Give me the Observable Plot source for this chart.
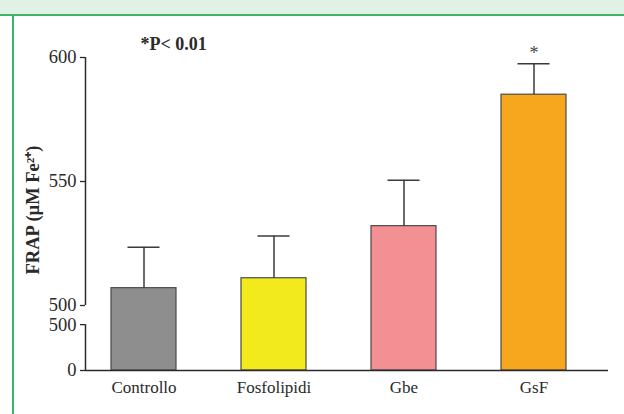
<!DOCTYPE html>
<html><head><meta charset="utf-8">
<script src="https://cdn.jsdelivr.net/npm/d3@7"></script>
<script src="https://cdn.jsdelivr.net/npm/@observablehq/plot@0.6"></script>
<style>
body{margin:0;background:#fff;}
#wrap{position:relative;width:624px;height:414px;overflow:hidden;background:#fff;}
#band{position:absolute;left:0;top:0;width:624px;height:14px;background:#e1f1e5;border-bottom:2px solid #3fb56c;}
#vline{position:absolute;left:12px;top:14px;width:2px;height:400px;background:#3fb56c;}
#chart{position:absolute;left:0;top:0;}
</style></head><body>
<div id="wrap"><div id="band"></div><div id="vline"></div><div id="chart"></div></div>
<script>
// ---- data ----
const categories = ["Controllo", "Fosfolipidi", "Gbe", "GsF"];
const means = [507, 511, 532, 585];
const errTops = [523.5, 528, 550.5, 597.5];
const colors = ["#8e8e8e", "#f2ea1c", "#f39094", "#f7a71d"];
const significant = [false, false, false, true];
const lowerTicks = [0, 500];
const upperTicks = [500, 550, 600];
const pLabel = "*P< 0.01";
const yLabel = "FRAP (µM Fe²⁺)";
const starLabel = "*";

// ---- layout ----
const W = 624, H = 414;
const mL = 85, mR = 16, mT = 57, mB = 44;
// broken axis: the 0–500 stretch is compressed into a short segment below the break
const BREAK = 500, BREAK_TOP = 500 + 1e-6;
const LOWER_BOTTOM = 473.8, LOWER_TOP = 492.3;   // display units of compressed segment
const brokenAxis = v => v > BREAK ? v : LOWER_BOTTOM + v * (LOWER_TOP - LOWER_BOTTOM) / BREAK;
const ink = "#2a2a2a";
const font = "Liberation Serif, Times New Roman, serif";

const rows = categories.map((c, i) => ({cat: c, mean: means[i], err: errTops[i], color: colors[i], sig: significant[i]}));
const axisDx = mL - (mL + W - mR) / 2;
const upperPos = upperTicks.map(v => Math.max(v, BREAK_TOP));
const axisSegments = [{a: lowerTicks[0], b: BREAK}, {a: BREAK_TOP, b: upperTicks[upperTicks.length - 1]}];

const plot = Plot.plot({
  width: W, height: H,
  marginLeft: mL, marginRight: mR, marginTop: mT, marginBottom: mB,
  style: {fontFamily: font, fontSize: "17px", background: "transparent", color: ink},
  x: {domain: categories, range: [78, 598], paddingInner: 0.5, paddingOuter: 0.25, axis: null},
  y: {type: "linear", transform: brokenAxis, domain: [LOWER_BOTTOM, 600], range: [370, 57], axis: null},
  color: {type: "identity"},
  marks: [
    Plot.barY(rows, {x: "cat", y1: 0, y2: "mean", fill: "color", stroke: "#4a4a4a", strokeWidth: 1.2}),
    Plot.ruleX(rows, {x: "cat", y1: "mean", y2: "err", stroke: "#3a3a3a", strokeWidth: 1.5}),
    Plot.tickY(rows, {x: "cat", y: "err", stroke: "#3a3a3a", strokeWidth: 1.5, insetLeft: 16.5, insetRight: 16.5}),
    Plot.text(rows.filter(d => d.sig), {x: "cat", y: "err", text: () => starLabel, dy: -10, fontSize: 18, fill: "#444"}),
    Plot.ruleY([0], {stroke: ink, strokeWidth: 1.5}),
    Plot.ruleX(axisSegments, {x: null, y1: "a", y2: "b", dx: axisDx, stroke: ink, strokeWidth: 1.5}),
    Plot.axisY(lowerTicks, {tickSize: 5, tickPadding: 4, fontSize: 18.5, label: null, stroke: ink, strokeWidth: 1.3, fill: ink}),
    Plot.axisY(upperPos, {tickSize: 5, tickPadding: 4, fontSize: 18.5, label: null, stroke: ink, strokeWidth: 1.3, fill: ink, tickFormat: d => String(Math.round(d))}),
    Plot.axisX({tickSize: 0, tickPadding: 10, fontSize: 17, label: null, fill: ink}),
    Plot.text([pLabel], {frameAnchor: "top-left", text: d => d, dx: 55, dy: -13, lineAnchor: "middle", textAnchor: "start", fontSize: 18, fontWeight: "bold", fill: ink}),
    Plot.text([yLabel], {frameAnchor: "left", text: d => d, rotate: -90, textAnchor: "middle", lineAnchor: "middle", dx: -52, dy: -4, fontSize: 18.5, fontWeight: "bold", fill: ink})
  ]
});
document.getElementById("chart").appendChild(plot);
</script>
</body></html>
